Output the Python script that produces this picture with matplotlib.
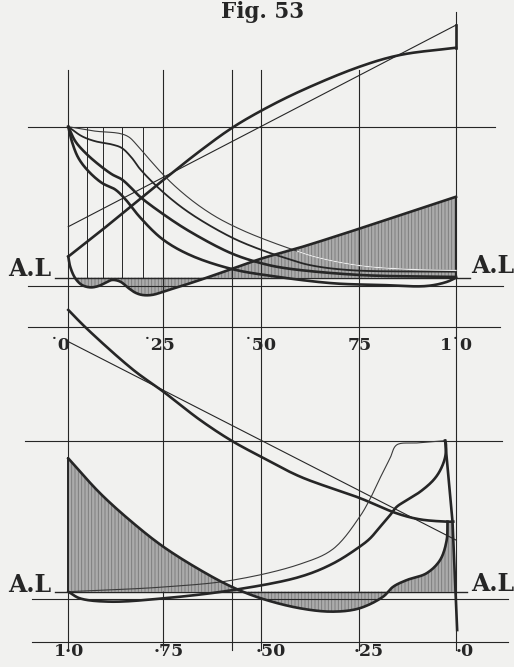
import matplotlib.pyplot as plt
import numpy as np

plt.rcParams['font.family'] = ['DejaVu Serif']
plt.rcParams['hatch.linewidth'] = 0.6

# stroke fractions of the vertical reference lines, and the short ones at the start
grid_x = [0, 0.245, 0.421, 0.497, 0.751, 1.0]
short_x = [0.047, 0.089, 0.138, 0.193]
top_labels = ['˙0', '˙25', '˙50', '75', '1˙0']
top_label_x = [0, 0.245, 0.497, 0.751, 1.0]
bot_labels = ['1·0', '·75', '·50', '·25', '·0']
bot_label_x = [0, 0.245, 0.497, 0.751, 1.0]

# ---- upper diagram (A.L = 0, upper line = 1)
a_x = [0, 0.087, 0.245, 0.340, 0.421, 0.497, 0.598, 0.751, 0.856, 1.0]
a_v = [0.14, 0.316, 0.647, 0.84, 0.99, 1.105, 1.235, 1.397, 1.475, 1.523]
b_x = [0, 1.0]
b_v = [0.338, 1.673]
c_x = [0, 0.068, 0.133, 0.156, 0.177, 0.207, 0.242, 0.280, 0.330, 0.383, 0.440, 0.497, 0.580, 0.641, 0.752, 0.873, 1.0]
c_v = [1.0, 0.971, 0.955, 0.932, 0.879, 0.790, 0.690, 0.595, 0.490, 0.400, 0.325, 0.263, 0.185, 0.135, 0.080, 0.056, 0.048]
d_x = [0, 0.035, 0.069, 0.113, 0.138, 0.164, 0.185, 0.243, 0.314, 0.421, 0.499, 0.563, 0.622, 0.727, 1.0]
d_v = [1.0, 0.937, 0.904, 0.882, 0.859, 0.793, 0.720, 0.570, 0.427, 0.267, 0.183, 0.128, 0.084, 0.050, 0.040]
e_x = [0, 0.018, 0.044, 0.078, 0.113, 0.138, 0.164, 0.185, 0.243, 0.314, 0.421, 0.499, 0.563, 0.752, 1.0]
e_v = [1.0, 0.904, 0.827, 0.750, 0.684, 0.651, 0.590, 0.536, 0.424, 0.305, 0.161, 0.095, 0.062, 0.018, 0.005]
f_x = [0, 0.009, 0.026, 0.052, 0.087, 0.121, 0.147, 0.185, 0.243, 0.314, 0.421, 0.528, 0.683, 0.804, 0.924, 0.976, 1.0]
f_v = [1.0, 0.904, 0.793, 0.705, 0.627, 0.584, 0.520, 0.400, 0.255, 0.150, 0.058, 0.010, -0.037, -0.048, -0.055, -0.028, 0.0]
g_x = [0, 0.005, 0.018, 0.035, 0.057, 0.078, 0.097, 0.113, 0.134, 0.156, 0.172, 0.190, 0.216, 0.259, 0.327, 0.414, 0.500, 0.598, 0.727, 0.856, 1.0]
g_v = [0.14, 0.072, -0.004, -0.048, -0.064, -0.055, -0.032, -0.015, -0.026, -0.070, -0.098, -0.114, -0.114, -0.081, -0.026, 0.051, 0.128, 0.200, 0.305, 0.414, 0.536]

# ---- lower diagram (A.L = 0, upper line = 1)
p_x = [0, 0.047, 0.168, 0.245, 0.340, 0.421, 0.497, 0.598, 0.751, 0.847, 0.907, 0.976, 0.993]
p_v = [1.866, 1.744, 1.468, 1.325, 1.137, 1.0, 0.894, 0.762, 0.621, 0.519, 0.479, 0.464, 0.464]
q_x = [0, 1.0]
q_v = [1.656, 0.342]
r_x = [0, 0.245, 0.425, 0.598, 0.683, 0.751, 0.778, 0.804, 0.830, 0.847, 0.899, 0.972]
r_v = [0, 0.031, 0.077, 0.183, 0.283, 0.494, 0.613, 0.752, 0.885, 0.972, 0.985, 1.0]
s_x = [0, 0.030, 0.108, 0.245, 0.425, 0.598, 0.683, 0.751, 0.778, 0.804, 0.830, 0.847, 0.873, 0.907, 0.941, 0.959, 0.972, 0.974, 0.972]
s_v = [0, -0.044, -0.066, -0.044, 0.011, 0.099, 0.187, 0.297, 0.352, 0.429, 0.507, 0.562, 0.606, 0.661, 0.737, 0.803, 0.891, 0.979, 1.0]
t_x = [0.972, 0.991, 1.003]
t_v = [1.0, 0.464, -0.254]
u_x = [0, 0.082, 0.168, 0.245, 0.340, 0.421, 0.497, 0.598, 0.683, 0.751, 0.812, 0.838, 0.873, 0.924, 0.959, 0.976, 0.978]
u_v = [0.883, 0.652, 0.453, 0.298, 0.144, 0.033, -0.044, -0.110, -0.132, -0.110, -0.033, 0.033, 0.077, 0.122, 0.210, 0.342, 0.464]

INK = '#262626'
PAPER = '#f1f1ef'
W, H = 514, 667
X0, X1 = 68.3, 456.0          # pixel columns of stroke 0 and 1
TOP_AL, BOT_AL, UNIT = 277.7, 591.7, 151.0
SX, SY = X1 - X0, UNIT


def smooth(xs, ys, n=16):
    # centripetal catmull-rom through the read points (in pixel scale), for drawing only
    pts = np.column_stack([np.asarray(xs) * SX, np.asarray(ys) * SY]).astype(float)
    if len(pts) < 3:
        return np.asarray(xs, float), np.asarray(ys, float)
    p = np.vstack([2 * pts[0] - pts[1], pts, 2 * pts[-1] - pts[-2]])
    out = []
    for i in range(1, len(p) - 2):
        p0, p1, p2, p3 = p[i - 1], p[i], p[i + 1], p[i + 2]
        t0 = 0.0
        t1 = t0 + np.linalg.norm(p1 - p0) ** 0.5
        t2 = t1 + np.linalg.norm(p2 - p1) ** 0.5
        t3 = t2 + np.linalg.norm(p3 - p2) ** 0.5
        t = np.linspace(t1, t2, n, endpoint=False)[:, None]
        a1 = (t1 - t) / (t1 - t0) * p0 + (t - t0) / (t1 - t0) * p1
        a2 = (t2 - t) / (t2 - t1) * p1 + (t - t1) / (t2 - t1) * p2
        a3 = (t3 - t) / (t3 - t2) * p2 + (t - t2) / (t3 - t2) * p3
        b1 = (t2 - t) / (t2 - t0) * a1 + (t - t0) / (t2 - t0) * a2
        b2 = (t3 - t) / (t3 - t1) * a2 + (t - t1) / (t3 - t1) * a3
        out.append((t2 - t) / (t2 - t1) * b1 + (t - t1) / (t2 - t1) * b2)
    out.append(pts[-1:])
    a = np.vstack(out)
    return a[:, 0] / SX, a[:, 1] / SY


fig = plt.figure(figsize=(W / 100, H / 100), dpi=100, facecolor=PAPER)
xlim = (-X0 / SX, (W - X0) / SX)
ax_t = fig.add_axes([0, 0, 1, 1])
ax_b = fig.add_axes([0, 0, 1, 1])
for ax, al in ((ax_t, TOP_AL), (ax_b, BOT_AL)):
    ax.set_xlim(*xlim)
    ax.set_ylim((al - H) / UNIT, al / UNIT)
    ax.axis('off')
    ax.patch.set_alpha(0)
ax_t.patch.set_facecolor(PAPER)
ax_t.patch.set_alpha(1)

px = 1 / SX   # one pixel in stroke units

# vertical reference lines through both diagrams
for gx in grid_x:
    top = 1.762 if gx == 1.0 else (TOP_AL - 70) / UNIT
    ax_t.plot([gx, gx], [top, (TOP_AL - 650) / UNIT], color=INK, lw=0.8)
for sx in short_x:
    ax_t.plot([sx, sx], [1, 0], color=INK, lw=0.7)

# horizontal lines: level, left end, right end
for lv, x_a, x_b in [(1.0, -0.104, 1.101), (0.0, -0.034, 1.036),
                     (-0.053, -0.104, 1.121), (-0.327, -0.104, 1.114)]:
    ax_t.plot([x_a, x_b], [lv, lv], color=INK, lw=1.0 if lv == 0 else 0.8)
for lv, x_a, x_b in [(1.0, -0.112, 1.118), (0.0, -0.034, 1.028),
                     (-0.050, -0.094, 1.135), (-0.335, -0.094, 1.135)]:
    ax_b.plot([x_a, x_b], [lv, lv], color=INK, lw=1.0 if lv == 0 else 0.8)

shade = dict(facecolor='#ababab', edgecolor='#787878', hatch='|||||', linewidth=0, zorder=1)

# upper diagram shading between G and A.L
gx_s, gv_s = smooth(g_x, g_v)
keep = gx_s >= g_x[2]
ax_t.fill(np.r_[gx_s[keep], 1.0, g_x[2]], np.r_[gv_s[keep], 0.0, 0.0], **shade)

# upper curves
ax_t.plot(*smooth(a_x, a_v), color=INK, lw=1.9)
ax_t.plot(b_x, b_v, color=INK, lw=0.8)
cx_s, cv_s = smooth(c_x, c_v)
ax_t.plot(cx_s, cv_s, color='#3a3a3a', lw=0.8)
# the engraver left the thin curve white where it runs through the hatching
inside = cv_s < np.interp(cx_s, gx_s, gv_s) - 0.02
ax_t.plot(np.where(inside, cx_s, np.nan), cv_s, color='#ececec', lw=0.9, zorder=3)
ax_t.plot(*smooth(d_x, d_v), color=INK, lw=1.3)
ax_t.plot(*smooth(e_x, e_v), color=INK, lw=1.9)
ax_t.plot(*smooth(f_x, f_v), color=INK, lw=1.9)
ax_t.plot(gx_s, gv_s, color=INK, lw=1.9)
ax_t.plot([1.0, 1.0], [a_v[-1], b_v[-1]], color=INK, lw=1.9)
ax_t.plot([1.0, 1.0], [g_v[-1], 0], color=INK, lw=1.4)

# lower diagram shading between U and A.L, closed by the steep line T
ux_s, uv_s = smooth(u_x, u_v)
t_zero = np.interp(0, t_v[::-1], t_x[::-1])
ax_b.fill(np.r_[ux_s, t_x[1], t_zero, 0.0], np.r_[uv_s, t_v[1], 0.0, 0.0], **shade)

ax_b.plot(*smooth(p_x, p_v), color=INK, lw=1.9)
ax_b.plot(q_x, q_v, color=INK, lw=0.8)
ax_b.plot(*smooth(r_x, r_v), color='#3a3a3a', lw=0.8)
ax_b.plot(*smooth(s_x, s_v), color=INK, lw=1.9)
ax_b.plot(t_x, t_v, color=INK, lw=1.9)
ax_b.plot(ux_s, uv_s, color=INK, lw=1.9)
ax_b.plot([0, 0], [0, u_v[0]], color=INK, lw=1.4)

# scale figures
lab = dict(fontsize=12.5, fontweight='bold', color=INK, va='center')
for s, x, dx in zip(top_labels, top_label_x, [-8, -4, -1, 0, 0]):
    ax_t.text(x + dx * px, (TOP_AL - 346) / UNIT, s, ha='center', **lab)
for s, x, dx in zip(bot_labels, bot_label_x, [1, 5, 10, 9, 9]):
    ax_b.text(x + dx * px, (BOT_AL - 652) / UNIT, s, ha='center', **lab)

al = dict(fontsize=17, fontweight='bold', color=INK, ha='center', va='center')
ax_t.text(-0.099, 0.058, 'A.L', **al)
ax_t.text(1.095, 0.077, 'A.L', **al)
ax_b.text(-0.099, 0.044, 'A.L', **al)
ax_b.text(1.095, 0.051, 'A.L', **al)

fig.text(263 / W, 1 - 12 / H, 'Fig. 53', fontsize=15.5, fontweight='bold',
         color=INK, ha='center', va='center')

fig.savefig('out.png', dpi=100, facecolor=PAPER)
